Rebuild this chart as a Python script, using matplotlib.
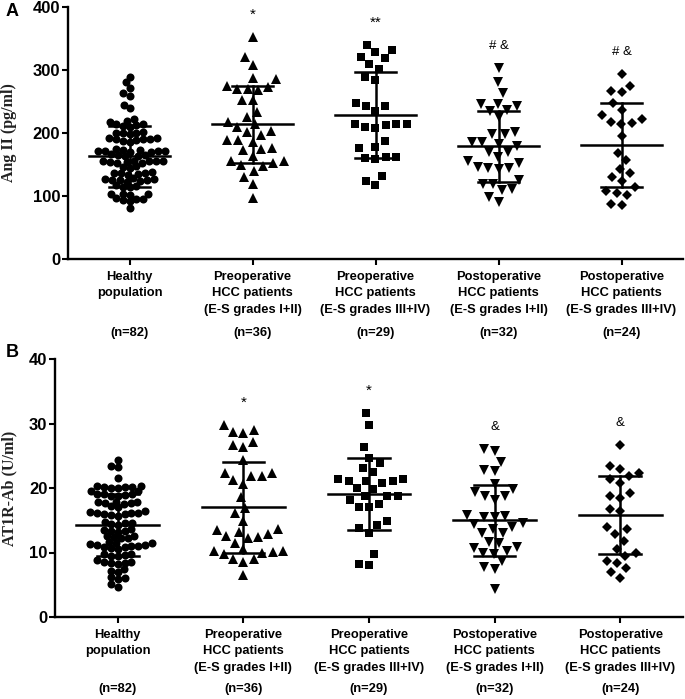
import matplotlib
matplotlib.use("Agg")
import matplotlib.pyplot as plt
import matplotlib.transforms as mtransforms
from matplotlib import font_manager
import numpy as np

# group labels
groups = ["Healthy\npopulation",
          "Preoperative\nHCC patients\n(E-S grades I+II)",
          "Preoperative\nHCC patients\n(E-S grades III+IV)",
          "Postoperative\nHCC patients\n(E-S grades I+II)",
          "Postoperative\nHCC patients\n(E-S grades III+IV)"]
n_labels = ["(n=82)", "(n=36)", "(n=29)", "(n=32)", "(n=24)"]
markers = ["o", "^", "s", "v", "D"]

# Panel A: Ang II (pg/ml)
angA_healthy = [288, 280, 272, 263, 259, 244, 239, 222, 219, 218,
                214, 214, 212, 211, 210,
                201, 200, 200, 200, 199,
                192, 192, 191, 190, 190, 189, 188, 186,
                174, 173, 173, 172, 172, 172, 171, 170, 170,
                166, 165, 165, 164, 163,
                156, 156, 155, 155, 155, 154, 154, 153, 152,
                147, 146, 145,
                138, 137, 136, 136, 135, 134,
                128, 127, 127, 126, 125, 125, 124, 123,
                117, 116, 115, 114,
                104, 103, 103, 102,
                97, 96, 95, 94, 92,
                81]
angA_pre12 = [352, 321, 308, 287, 285, 275, 273, 270, 270, 268, 252, 252,
              233, 226, 217, 214, 210, 203, 202, 197, 189, 189, 186, 177,
              175, 173, 164, 155, 155, 152, 149, 147, 140, 131, 119, 97]
angA_pre34 = [339, 331, 329, 321, 318, 310, 302, 288, 284, 248, 242, 242,
              235, 215, 215, 214, 212, 210, 208, 187, 178, 176, 162, 162,
              161, 159, 132, 124, 117]
angA_post12 = [303, 280, 263, 246, 246, 242, 236, 235, 225, 202, 198, 198,
               186, 185, 183, 180, 170, 170, 162, 155, 152, 146, 144, 144,
               143, 126, 120, 120, 111, 109, 99, 91]
angA_post34 = [293, 275, 267, 265, 248, 236, 228, 222, 218, 216, 214, 195,
               169, 158, 143, 136, 130, 124, 115, 108, 105, 102, 88, 86]
angA_mean = [163, 214, 228, 179, 181]
angA_sd = [48, 61, 68, 56, 66]
angA_marks = ["", "*", "**", "# &", "# &"]

# Panel B: AT1R-Ab (U/ml)
atB_healthy = [24.3, 23.4, 23.2, 21.6,
               20.3, 20.3, 20.2, 20.2, 20.1, 20.0, 20.0,
               19.6, 19.5,
               19.1, 19.0, 19.0, 18.9, 18.8, 18.8,
               17.9, 17.8, 17.8, 17.7, 17.6, 17.5,
               17.2, 17.0,
               16.4, 16.3, 16.2, 16.2, 16.1, 16.0, 15.9, 15.8, 15.7,
               14.8, 14.6, 14.5, 14.4, 14.3,
               13.6, 13.5, 13.4, 13.3, 13.2,
               12.6, 12.5, 12.4, 12.3, 12.2,
               11.6, 11.5, 11.4, 11.3,
               11.2, 11.1, 11.0, 11.0, 10.9, 10.8, 10.7, 10.6,
               9.8, 9.7, 9.6, 9.5, 9.4,
               8.8, 8.6, 8.5, 8.4, 8.3, 8.2,
               7.4, 7.2, 7.0,
               6.2, 6.0, 5.9,
               5.1, 4.7]
atB_pre12 = [29.8, 29.0, 28.7, 28.5, 27.1, 26.7, 26.4, 24.3, 22.4, 22.3,
             21.8, 21.8, 21.2, 20.6, 18.6, 16.9, 16.1, 14.9, 13.6, 13.5,
             13.2, 12.8, 12.6, 12.4, 12.2, 11.5, 10.5, 10.3, 10.3, 10.1,
             10.0, 9.8, 9.0, 9.0, 8.5, 6.5]
atB_pre34 = [31.6, 29.8, 26.3, 24.7, 23.9, 23.1, 22.5, 21.4, 21.4, 21.1,
             21.1, 21.1, 20.7, 20.0, 19.8, 18.8, 18.7, 18.7, 18.1, 17.5,
             17.1, 17.0, 14.9, 14.3, 13.8, 13.1, 9.7, 8.2, 8.1]
atB_post12 = [26.0, 25.8, 24.1, 22.8, 22.6, 20.6, 19.9, 19.4, 18.7, 18.7,
              18.1, 15.8, 15.7, 15.5, 15.5, 14.5, 14.4, 14.0, 13.6, 13.1,
              13.1, 11.7, 11.4, 10.9, 10.7, 10.3, 9.9, 9.8, 8.7, 7.8, 7.4, 4.4]
atB_post34 = [26.7, 23.4, 22.9, 22.4, 21.9, 21.4, 20.8, 19.2, 18.7, 18.5,
              16.8, 16.4, 14.0, 13.6, 12.8, 11.8, 10.5, 9.9, 9.5, 8.7, 8.4,
              7.6, 6.9, 6.1]
atB_mean = [14.2, 17.0, 19.1, 15.0, 15.8]
atB_sd = [4.8, 7.1, 5.6, 5.5, 6.1]
atB_marks = ["", "*", "*", "&", "&"]

names = {f.name for f in font_manager.fontManager.ttflist}
narrow = "Liberation Sans Narrow" if "Liberation Sans Narrow" in names else "Liberation Sans"
plt.rcParams["font.family"] = ["Liberation Sans", "DejaVu Sans"]

W, H = 685, 699
fig = plt.figure(figsize=(W / 100, H / 100), dpi=100)


def swarm_x(ax, xc, vals, dx_min, dy_min):
    # beeswarm in pixel space, elliptical spacing
    ys = ax.transData.transform(np.column_stack([np.full(len(vals), xc), vals]))[:, 1]
    xp = np.zeros(len(vals))
    done = []
    for i in np.argsort(ys, kind="stable"):
        y = ys[i]
        near = [j for j in done if abs(ys[j] - y) < dy_min]
        cands = [0.0]
        for j in near:
            dx = dx_min * np.sqrt(1 - ((ys[j] - y) / dy_min) ** 2)
            cands += [xp[j] - dx, xp[j] + dx]
        cands.sort(key=abs)
        for c in cands:
            if all(((xp[j] - c) / dx_min) ** 2 + ((ys[j] - y) / dy_min) ** 2 >= 1 - 1e-6
                   for j in near):
                xp[i] = c
                break
        done.append(i)
    x0 = ax.transData.transform([(xc, 0)])[0, 0]
    return ax.transData.inverted().transform(np.column_stack([x0 + xp, ys]))[:, 0]


def panel(rect, data, means, sds, marks, ymax, ystep, ylabel, letter,
          letter_y, label_y0, n_y):
    ax = fig.add_axes(rect)
    ax.set_xlim(-0.5, 4.5)
    ax.set_ylim(0, ymax)
    ax.set_yticks(np.arange(0, ymax + 1, ystep))
    ax.set_xticks(range(5))
    ax.set_xticklabels([])
    for s in ["top", "right"]:
        ax.spines[s].set_visible(False)
    for s in ["left", "bottom"]:
        ax.spines[s].set_linewidth(1.7)
    ax.tick_params(width=1.5, length=4, pad=1.5, labelsize=12)
    for t in ax.get_yticklabels():
        t.set_fontweight("bold")

    sizes = [5.8, 6.6, 5.8, 6.6, 5.4]
    for i, vals in enumerate(data):
        if i == 0:
            xs = swarm_x(ax, i, vals, 7.0, 6.0)
        else:
            xs = swarm_x(ax, i, vals, 10.5, 12.0)
        ax.plot(xs, vals, markers[i], color="black", ms=sizes[i], mew=0, zorder=2)
        m, s = means[i], sds[i]
        ax.plot([i - 0.33, i + 0.33], [m, m], "k-", lw=1.8, zorder=3)
        ax.plot([i - 0.165, i + 0.165], [m + s, m + s], "k-", lw=1.8, zorder=3)
        ax.plot([i - 0.165, i + 0.165], [m - s, m - s], "k-", lw=1.8, zorder=3)
        ax.plot([i, i], [m - s, m + s], "k-", lw=1.8, zorder=3)
        if marks[i]:
            ax.annotate(marks[i], (i, max(vals)), xytext=(0, 16),
                        textcoords="offset points", ha="center", va="center",
                        fontsize=11 if "*" in marks[i] else 9.5)

    tr = mtransforms.blended_transform_factory(ax.transData, fig.transFigure)
    for i, g in enumerate(groups):
        for j, line in enumerate(g.split("\n")):
            ax.text(i, 1 - (label_y0 + 16.3 * j) / H, line, transform=tr,
                    ha="center", va="center", fontsize=9.3, fontweight="bold",
                    family=[narrow, "DejaVu Sans"])
        ax.text(i, 1 - n_y / H, n_labels[i], transform=tr, ha="center",
                va="center", fontsize=9.3, fontweight="bold",
                family=[narrow, "DejaVu Sans"])

    bb = ax.get_position()
    fig.text(9 / W, bb.y0 + bb.height / 2, ylabel, rotation=90, ha="center",
             va="center", fontsize=11.5, fontweight="bold", color="#222222",
             family=["Liberation Serif", "DejaVu Serif"])
    fig.text(12 / W, 1 - letter_y / H, letter, ha="center", va="center",
             fontsize=13, fontweight="bold")
    return ax


panel([68 / W, 1 - 259.3 / H, 615 / W, 252.6 / H],
      [angA_healthy, angA_pre12, angA_pre34, angA_post12, angA_post34],
      angA_mean, angA_sd, angA_marks, 400, 100, "Ang II (pg/ml)", "A",
      11, 277, 333)
panel([55 / W, 1 - 617 / H, 628 / W, 258 / H],
      [atB_healthy, atB_pre12, atB_pre34, atB_post12, atB_post34],
      atB_mean, atB_sd, atB_marks, 40, 10, "AT1R-Ab (U/ml)", "B",
      353, 635, 689)

fig.savefig("out.png", dpi=100)
